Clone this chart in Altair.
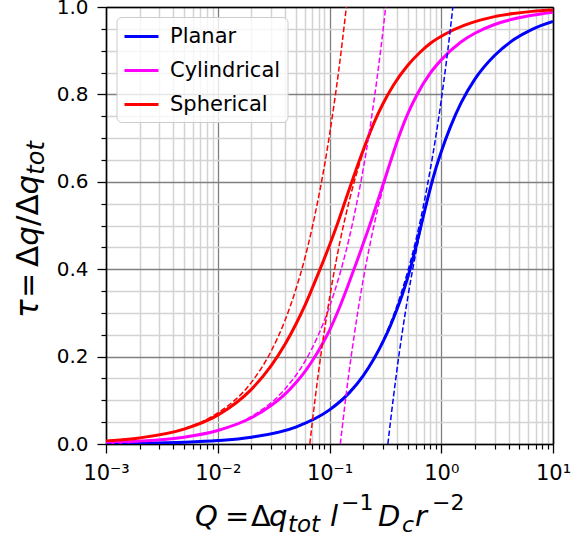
import altair as alt
import pandas as pd

SERIES = ["Planar", "Cylindrical", "Spherical"]
COLORS = ["#0000ff", "#ff00ff", "#ff0000"]

# Full uptake curves tau(Q)
planar_q = [0.001, 0.002, 0.005, 0.01, 0.02, 0.05, 0.1, 0.15, 0.2, 0.25, 0.3, 0.35, 0.4,
            0.45, 0.5, 0.55, 0.6, 0.65, 0.7, 0.75, 0.8, 0.9, 1.0, 1.2, 1.5, 2.0, 3.0, 4.5, 6.5, 10]
planar_tau = [0.0008, 0.0016, 0.0039, 0.0078, 0.0156, 0.0388, 0.078, 0.117, 0.156, 0.195, 0.233,
              0.27, 0.307, 0.343, 0.38, 0.418, 0.456, 0.493, 0.527, 0.558, 0.586, 0.633, 0.669,
              0.724, 0.78, 0.835, 0.889, 0.926, 0.949, 0.967]

cyl_q = [0.001, 0.002, 0.005, 0.01, 0.02, 0.03, 0.04, 0.05, 0.06, 0.07, 0.08, 0.1, 0.12, 0.15,
         0.18, 0.2, 0.23, 0.26, 0.3, 0.35, 0.4, 0.5, 0.6, 0.8, 1.0, 1.5, 2.0, 3.0, 4.5, 6.5, 10]
cyl_tau = [0.0031, 0.0063, 0.0156, 0.031, 0.06, 0.088, 0.114, 0.14, 0.165, 0.19, 0.214, 0.26,
           0.306, 0.37, 0.425, 0.458, 0.502, 0.543, 0.592, 0.645, 0.69, 0.755, 0.797, 0.849,
           0.879, 0.92, 0.94, 0.96, 0.973, 0.981, 0.988]

sph_q = [0.001, 0.002, 0.005, 0.01, 0.02, 0.03, 0.04, 0.05, 0.06, 0.07, 0.08, 0.1, 0.12, 0.14,
         0.16, 0.2, 0.25, 0.3, 0.373, 0.5, 0.65, 0.8, 1.12, 1.6, 2.23, 3.0, 4.43, 6.5, 10]
sph_tau = [0.007, 0.0139, 0.034, 0.066, 0.125, 0.1785, 0.228, 0.274, 0.316, 0.356, 0.392, 0.455,
           0.51, 0.56, 0.603, 0.672, 0.735, 0.778, 0.821, 0.866, 0.897, 0.917, 0.94, 0.958,
           0.97, 0.978, 0.985, 0.99, 0.993]

# Small-Q asymptotes
planar_short_q = [0.001, 0.003, 0.01, 0.03, 0.1, 0.2, 0.3, 0.4, 0.5, 0.6, 0.7, 0.8, 0.9, 1.0,
                  1.1, 1.2, 1.27]
planar_short_tau = [0.0008, 0.0024, 0.0079, 0.0236, 0.079, 0.157, 0.236, 0.315, 0.394, 0.472,
                    0.551, 0.63, 0.708, 0.787, 0.866, 0.944, 1.0]
cyl_short_q = [0.001, 0.002, 0.005, 0.01, 0.02, 0.04, 0.06, 0.08, 0.1, 0.125, 0.15, 0.175, 0.2,
               0.225, 0.25, 0.275, 0.3, 0.318]
cyl_short_tau = [0.003, 0.006, 0.016, 0.031, 0.063, 0.126, 0.188, 0.251, 0.314, 0.393, 0.471,
                 0.55, 0.628, 0.707, 0.785, 0.864, 0.942, 1.0]
sph_short_q = [0.001, 0.002, 0.005, 0.01, 0.02, 0.03, 0.04, 0.05, 0.06, 0.07, 0.08, 0.09, 0.1,
               0.11, 0.12, 0.13, 0.1415]
sph_short_tau = [0.007, 0.014, 0.035, 0.071, 0.141, 0.212, 0.283, 0.354, 0.424, 0.495, 0.566,
                 0.636, 0.707, 0.778, 0.848, 0.919, 1.0]

# Large-Q asymptotes
planar_long_q = [0.333, 0.35, 0.375, 0.4, 0.45, 0.5, 0.55, 0.6, 0.65, 0.7, 0.8, 0.9]
planar_long_tau = [0.0, 0.048, 0.111, 0.167, 0.259, 0.333, 0.394, 0.444, 0.487, 0.524, 0.583, 0.63]
cyl_long_q = [0.125, 0.13, 0.14, 0.15, 0.165, 0.18, 0.2, 0.225, 0.25, 0.28, 0.32, 0.4]
cyl_long_tau = [0.0, 0.038, 0.107, 0.167, 0.242, 0.306, 0.375, 0.444, 0.5, 0.554, 0.609, 0.6875]
sph_long_q = [0.0667, 0.07, 0.075, 0.08, 0.09, 0.1, 0.11, 0.125, 0.15, 0.2, 0.25]
sph_long_tau = [0.0, 0.048, 0.111, 0.167, 0.259, 0.333, 0.394, 0.467, 0.556, 0.667, 0.733]

x_major = [0.001, 0.01, 0.1, 1, 10]
x_minor = [2e-3, 3e-3, 4e-3, 5e-3, 6e-3, 7e-3, 8e-3, 9e-3,
           2e-2, 3e-2, 4e-2, 5e-2, 6e-2, 7e-2, 8e-2, 9e-2,
           0.2, 0.3, 0.4, 0.5, 0.6, 0.7, 0.8, 0.9,
           2, 3, 4, 5, 6, 7, 8, 9]
y_major = [0.0, 0.2, 0.4, 0.6, 0.8, 1.0]
y_minor = [0.05, 0.1, 0.15, 0.25, 0.3, 0.35, 0.45, 0.5, 0.55, 0.65, 0.7, 0.75, 0.85, 0.9, 0.95]


def table(groups):
    rows = []
    for name, qs, taus in groups:
        for q, t in zip(qs, taus):
            rows.append({"series": name, "Q": q, "tau": t})
    return pd.DataFrame(rows)


solid_df = table([("Planar", planar_q, planar_tau),
                  ("Cylindrical", cyl_q, cyl_tau),
                  ("Spherical", sph_q, sph_tau)])
short_df = table([("Planar", planar_short_q, planar_short_tau),
                  ("Cylindrical", cyl_short_q, cyl_short_tau),
                  ("Spherical", sph_short_q, sph_short_tau)])
long_df = table([("Planar", planar_long_q, planar_long_tau),
                 ("Cylindrical", cyl_long_q, cyl_long_tau),
                 ("Spherical", sph_long_q, sph_long_tau)])

FONT = "DejaVu Sans"
xs = alt.Scale(type="log", domain=[0.001, 10], nice=False)
ys = alt.Scale(domain=[0, 1], nice=False, zero=False)
cs = alt.Scale(domain=SERIES, range=COLORS)

minor_x = alt.Axis(orient="bottom", values=x_minor, grid=True, gridColor="#d3d3d3", gridWidth=1.5,
                   ticks=True, tickSize=5, tickColor="black", tickWidth=1.2, labels=False,
                   domain=False, title=None)
minor_y = alt.Axis(orient="left", values=y_minor, grid=True, gridColor="#d3d3d3", gridWidth=1.5,
                   ticks=True, tickSize=5, tickColor="black", tickWidth=1.2, labels=False,
                   domain=False, title=None)

label_expr = ("datum.value < 0.002 ? '10⁻³' : datum.value < 0.02 ? '10⁻²' : "
              "datum.value < 0.2 ? '10⁻¹' : datum.value < 2 ? '10⁰' : '10¹'")
major_x = alt.Axis(orient="bottom", values=x_major, grid=True, gridColor="#808080", gridWidth=1.3,
                   tickSize=9, tickColor="black", tickWidth=1.3, labelExpr=label_expr,
                   labelFont=FONT, labelFontSize=21, labelColor="black", labelPadding=9,
                   labelFlush=False, domain=True, domainColor="black", domainWidth=1.6, title=None)
major_y = alt.Axis(orient="left", values=y_major, grid=True, gridColor="#808080", gridWidth=1.3,
                   tickSize=9, tickColor="black", tickWidth=1.3, format=".1f",
                   labelFont=FONT, labelFontSize=20, labelColor="black", labelPadding=9,
                   domain=True, domainColor="black", domainWidth=1.6, title=None)
frame_x = alt.Axis(orient="top", grid=False, ticks=False, labels=False, domain=True,
                   domainColor="black", domainWidth=1.6, title=None)
frame_y = alt.Axis(orient="right", grid=False, ticks=False, labels=False, domain=True,
                   domainColor="black", domainWidth=1.6, title=None)

legend = alt.Legend(title=None, orient="none", legendX=10.5, legendY=10, direction="vertical",
                    symbolType="M-1.045,0H2.045", symbolSize=484, symbolStrokeWidth=3,
                    labelFont=FONT, labelFontSize=21, labelColor="black", labelOffset=21.5,
                    padding=7, rowPadding=11, fillColor="rgba(255,255,255,0.8)",
                    strokeColor="#cccccc", cornerRadius=5)

solid = alt.Chart(solid_df).mark_line(strokeWidth=3, clip=True, interpolate="monotone").encode(
    x=alt.X("Q:Q", scale=xs, axis=minor_x),
    y=alt.Y("tau:Q", scale=ys, axis=minor_y),
    color=alt.Color("series:N", scale=cs, legend=legend, sort=SERIES),
)
short = alt.Chart(short_df).mark_line(strokeWidth=1.5, strokeDash=[5.5, 2.5], clip=True,
                                      interpolate="monotone").encode(
    x=alt.X("Q:Q", scale=xs, axis=major_x),
    y=alt.Y("tau:Q", scale=ys, axis=major_y),
    color=alt.Color("series:N", scale=cs, legend=None),
)
long = alt.Chart(long_df).mark_line(strokeWidth=1.5, strokeDash=[5.5, 2.5], clip=True,
                                    interpolate="monotone").encode(
    x=alt.X("Q:Q", scale=xs, axis=frame_x),
    y=alt.Y("tau:Q", scale=ys, axis=frame_y),
    color=alt.Color("series:N", scale=cs, legend=None),
)

# Axis titles set as pieces of math text (plot-area pixel offsets)
one_row = alt.Data(values=[{"k": 0}])


def piece(txt, x, y, size=29, italic=False, angle=0):
    return alt.Chart(one_row).mark_text(
        text=txt, font=FONT, fontSize=size, fontStyle="italic" if italic else "normal",
        align="left", baseline="alphabetic", color="black", angle=angle,
    ).encode(x=alt.value(x), y=alt.value(y))


titles = [
    # Q = Δq_tot l^-1 D_c r^-2
    piece("Q", 89, 519, italic=True),
    piece("=", 119, 519),
    piece("Δ", 145, 519),
    piece("q", 163, 519, italic=True),
    piece("tot", 182, 525, size=23, italic=True),
    piece("l", 224, 519, italic=True),
    piece("−1", 235, 503, size=22),
    piece("D", 272, 519, italic=True),
    piece("c", 296, 525, size=22, italic=True),
    piece("r", 309, 519, italic=True),
    piece("−2", 326, 503, size=22),
    # τ = Δq/Δq_tot (rotated)
    piece("τ", -68, 311, size=31, italic=True, angle=270),
    piece("=", -68, 291, size=30, angle=270),
    piece("Δ", -68, 260, size=31, angle=270),
    piece("q", -68, 238.8, size=31, italic=True, angle=270),
    piece("/", -68, 219, size=31, angle=270),
    piece("Δ", -68, 208.6, size=31, angle=270),
    piece("q", -68, 187.4, size=31, italic=True, angle=270),
    piece("tot", -62, 167.7, size=24, italic=True, angle=270),
]

chart = alt.layer(solid, short, long, *titles).resolve_axis(
    x="independent", y="independent"
).properties(
    width=447, height=437,
    autosize=alt.AutoSizeParams(type="none"),
    padding={"left": 106, "top": 7, "right": 18, "bottom": 95},
).configure_view(stroke=None)

chart.save("out.html", embed_options={"renderer": "svg", "actions": False})
